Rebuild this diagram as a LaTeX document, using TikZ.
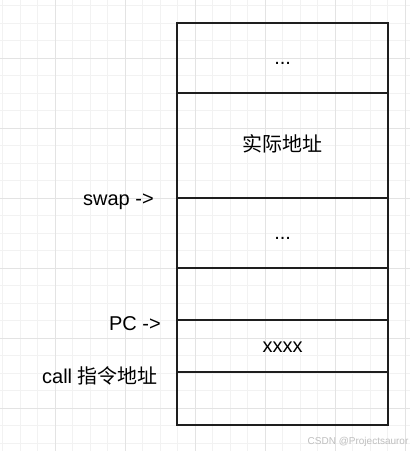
\documentclass[tikz,border=0pt]{standalone}
\usepackage{fontspec}
\setmainfont{Liberation Sans}
\newfontfamily\cjk{Noto Sans CJK SC}
\usetikzlibrary{positioning}

\definecolor{gridminor}{HTML}{F2F2F2}
\definecolor{gridmajor}{HTML}{E3E3E3}
\definecolor{inkline}{HTML}{1E1E1E}

\tikzset{
  cell/.style={draw=inkline, line width=1.5pt, inner sep=0pt, outer sep=0pt,
    minimum width=157.9pt, text height=13pt, text depth=3.5pt,
    font=\fontsize{15}{18}\selectfont},
  lbl/.style={inner sep=0pt, anchor=base east, font=\fontsize{15}{18}\selectfont}
}

\begin{document}
\begin{tikzpicture}[x=0.75pt, y=-0.75pt]
		%%%%% START %%%%%
		\useasboundingbox (0,0) rectangle (410,451);
		\fill[white] (0,0) rectangle (410,451);
		
		% grid
		\begin{scope}
		\clip (0,0) rectangle (410,451);
		\foreach \gx in {2.5,20,...,410}
			\draw[gridminor, line width=0.75pt] (\gx,0) -- (\gx,451);
		\foreach \gy in {5.5,23,...,451}
			\draw[gridminor, line width=0.75pt] (0,\gy) -- (410,\gy);
		\foreach \gx in {55,125,...,410}
			\draw[gridmajor, line width=0.75pt] (\gx,0) -- (\gx,451);
		\foreach \gy in {58,128,...,451}
			\draw[gridmajor, line width=0.75pt] (0,\gy) -- (410,\gy);
		\end{scope}
		
		% stack cells
		\node[cell, minimum height=52.5pt] (top) at (282.7,57.7) {...};
		\node[cell, minimum height=78.75pt, below=0pt of top] (addr) {\cjk 实际地址};
		\node[cell, minimum height=52.5pt, below=0pt of addr] (dots) {...};
		\node[cell, minimum height=39.45pt, below=0pt of dots] (empty) {};
		\node[cell, minimum height=39pt, below=0pt of empty] (instr) {xxxx};
		\node[cell, minimum height=39.75pt, below=0pt of instr] (ret) {};
		
		% pointers
		\node[lbl] (swap) at (154,205) {swap ->};
		\node[lbl] (pc) at (161,330) {PC ->};
		\node[lbl] (call) at (158,383) {call {\cjk 指令地址}};
		
		\node[anchor=south east, inner sep=1pt, text=black!25, font=\fontsize{7.5}{9}\selectfont] (mark) at (410,448) {CSDN @Projectsauror};
		%%%%% END %%%%%
\end{tikzpicture}
\end{document}
